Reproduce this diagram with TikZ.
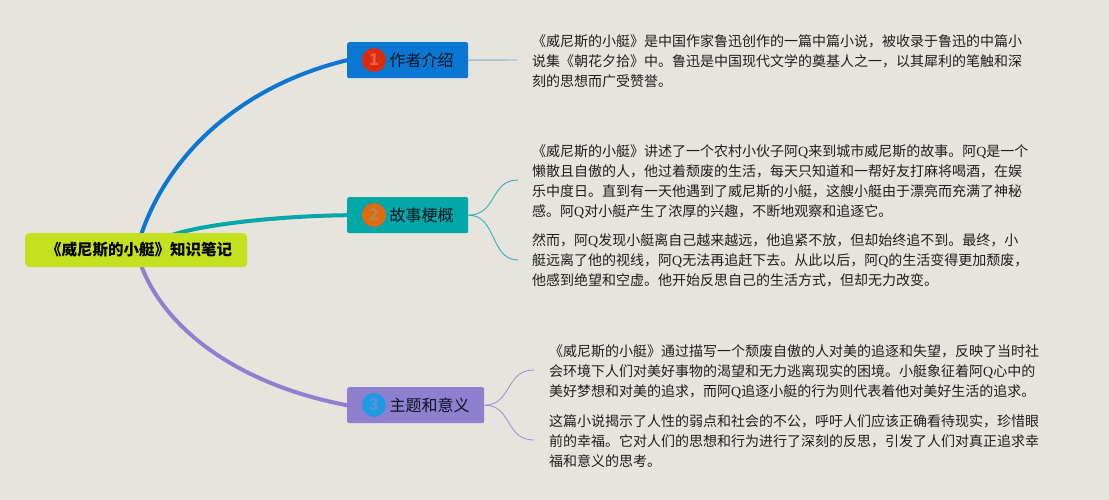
\documentclass[tikz,border=0pt]{standalone}
\usepackage{fontspec}
\setmainfont{Noto Sans CJK SC}
\newfontfamily\latinserif{Liberation Serif}
\newcommand{\QQ}{{\latinserif Q}}
\definecolor{bg}{HTML}{E6E4DD}
\definecolor{cblue}{HTML}{0A78D2}
\definecolor{cteal}{HTML}{02A8A8}
\definecolor{cpurple}{HTML}{8F7FCF}
\definecolor{clime}{HTML}{C4E01E}
\definecolor{bred}{HTML}{DD2A0C}
\definecolor{bredt}{HTML}{E8604A}
\definecolor{borange}{HTML}{E2690F}
\definecolor{boranget}{HTML}{B08A50}
\definecolor{bsky}{HTML}{1E9BE0}
\definecolor{bskyt}{HTML}{5C8FE0}
\definecolor{ink}{HTML}{0A1420}
\tikzset{
 x=1pt,y=-1pt,
 topic/.style={draw=none,rounded corners=2pt,inner sep=0pt,minimum height=36pt},
 badge/.style={circle,inner sep=0pt,minimum size=24pt,font=\fontsize{16}{16}\selectfont\bfseries},
 label/.style={anchor=west,font=\fontsize{16}{18}\selectfont,inner sep=0pt,text=ink},
 para/.style={anchor=north west,align=left,inner sep=0pt,font=\fontsize{14}{20.2}\selectfont,text=black!88},
 thick1/.style={line width=4pt,line cap=round},
 thin1/.style={line width=0.9pt},
}
\begin{document}
\begin{tikzpicture}
\useasboundingbox[fill=bg] (0,0) rectangle (1109,500);
\coordinate (cTop1) at (141,235);
\coordinate (cTop2) at (172,235);
\coordinate (cBot3) at (141,265);
\node[fill=cblue,topic,minimum width=121pt,anchor=north west] (n1) at (347,42) {};
\node[fill=cteal,topic,minimum width=121pt,anchor=north west] (n2) at (347,197) {};
\node[fill=cpurple,topic,minimum width=137pt,anchor=north west] (n3) at (347,387) {};
\draw[cblue,thick1] (cTop1) .. controls (170,150) and (245,85) .. (n1.west);
\draw[cteal,thick1] (cTop2) .. controls (205,224) and (280,216) .. (n2.west);
\draw[cpurple,thick1] (cBot3) .. controls (165,330) and (240,385) .. (n3.west);
\node[fill=clime,rounded corners=4pt,inner sep=0pt,minimum width=222pt,minimum height=34pt,anchor=north west,font=\fontsize{15.5}{18}\selectfont\bfseries,text=black] (c) at (25,233) {\hspace*{6pt}《威尼斯的小艇》知识笔记};
% badges and labels
\node[badge,fill=bred,text=bredt] (b1) at (374,60) {1};
\node[badge,fill=borange,text=boranget] (b2) at (374,215) {2};
\node[badge,fill=bsky,text=bskyt] (b3) at (374,405) {3};
\node[label] (t1) at (389.5,60) {作者介绍};
\node[label] (t2) at (389.5,215) {故事梗概};
\node[label] (t3) at (389.5,405) {主题和意义};
% paragraphs
\node[para] (p1) at (532,34) {《威尼斯的小艇》是中国作家鲁迅创作的一篇中篇小说，被收录于鲁迅的中篇小\\说集《朝花夕拾》中。鲁迅是中国现代文学的奠基人之一，以其犀利的笔触和深\\刻的思想而广受赞誉。};
\node[para] (p2) at (532,144) {《威尼斯的小艇》讲述了一个农村小伙子阿\QQ{}来到城市威尼斯的故事。阿\QQ{}是一个\\懒散且自傲的人，他过着颓废的生活，每天只知道和一帮好友打麻将喝酒，在娱\\乐中度日。直到有一天他遇到了威尼斯的小艇，这艘小艇由于漂亮而充满了神秘\\感。阿\QQ{}对小艇产生了浓厚的兴趣，不断地观察和追逐它。};
\node[para] (p3) at (532,233.5) {然而，阿\QQ{}发现小艇离自己越来越远，他追紧不放，但却始终追不到。最终，小\\艇远离了他的视线，阿\QQ{}无法再追赶下去。从此以后，阿\QQ{}的生活变得更加颓废，\\他感到绝望和空虚。他开始反思自己的生活方式，但却无力改变。};
\node[para] (p4) at (549,344.5) {《威尼斯的小艇》通过描写一个颓废自傲的人对美的追逐和失望，反映了当时社\\会环境下人们对美好事物的渴望和无力逃离现实的困境。小艇象征着阿\QQ{}心中的\\美好梦想和对美的追求，而阿\QQ{}追逐小艇的行为则代表着他对美好生活的追求。};
\node[para] (p5) at (549,414) {这篇小说揭示了人性的弱点和社会的不公，呼吁人们应该正确看待现实，珍惜眼\\前的幸福。它对人们的思想和行为进行了深刻的反思，引发了人们对真正追求幸\\福和意义的思考。};
% branch lines
\coordinate (e1) at (518,60);
\coordinate (e2) at (518,180);
\coordinate (e3) at (518,260);
\coordinate (e4) at (534,370);
\coordinate (e5) at (534,440);
\draw[cblue!55!bg,thin1] (n1.east) -- (e1);
\draw[cteal!80!bg,thin1] (n2.east) .. controls (497,215) and (490,180) .. (e2);
\draw[cteal!80!bg,thin1] (n2.east) .. controls (497,215) and (490,260) .. (e3);
\draw[cpurple!80!bg,thin1] (n3.east) .. controls (512,405) and (505,370) .. (e4);
\draw[cpurple!80!bg,thin1] (n3.east) .. controls (512,405) and (505,440) .. (e5);
\end{tikzpicture}
\end{document}
